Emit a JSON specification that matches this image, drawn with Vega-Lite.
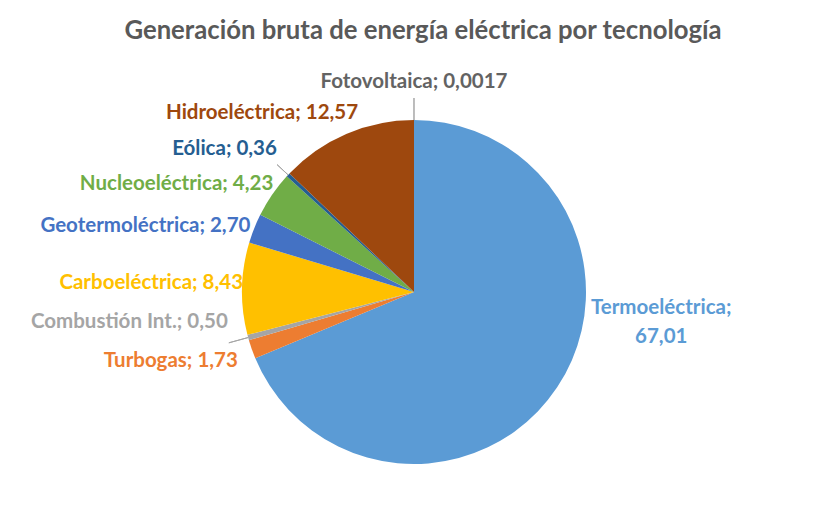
{
  "$schema": "https://vega.github.io/schema/vega-lite/v6.json",
  "width": 828,
  "height": 470,
  "autosize": "none",
  "padding": {"top": 57, "left": 0, "right": 0, "bottom": 0},
  "background": "white",
  "title": {
    "text": "Generación bruta de energía eléctrica por tecnología",
    "anchor": "middle",
    "frame": "group",
    "font": "Lato",
    "fontSize": 25.7,
    "fontWeight": "bold",
    "color": "#595959",
    "offset": 0,
    "baseline": "middle",
    "dx": 9
  },
  "config": {"view": {"stroke": null}},
  "data": {
    "values": [
      {"tech": "Termoeléctrica", "value": 67.01, "ord": 1, "label": "Termoeléctrica;\n67,01"},
      {"tech": "Turbogas", "value": 1.73, "ord": 2, "label": "Turbogas; 1,73"},
      {"tech": "Combustión Int.", "value": 0.50, "ord": 3, "label": "Combustión Int.; 0,50"},
      {"tech": "Carboeléctrica", "value": 8.43, "ord": 4, "label": "Carboeléctrica; 8,43"},
      {"tech": "Geotermoléctrica", "value": 2.70, "ord": 5, "label": "Geotermoléctrica; 2,70"},
      {"tech": "Nucleoeléctrica", "value": 4.23, "ord": 6, "label": "Nucleoeléctrica; 4,23"},
      {"tech": "Eólica", "value": 0.36, "ord": 7, "label": "Eólica; 0,36"},
      {"tech": "Hidroeléctrica", "value": 12.57, "ord": 8, "label": "Hidroeléctrica; 12,57"},
      {"tech": "Fotovoltaica", "value": 0.0017, "ord": 9, "label": "Fotovoltaica; 0,0017"}
    ]
  },
  "encoding": {
    "theta": {"field": "value", "type": "quantitative", "stack": true},
    "order": {"field": "ord", "type": "quantitative"}
  },
  "layer": [
    {
      "mark": {"type": "arc", "radius": 172},
      "encoding": {
        "color": {
          "field": "tech", "type": "nominal", "legend": null,
          "scale": {
            "domain": ["Termoeléctrica", "Turbogas", "Combustión Int.", "Carboeléctrica", "Geotermoléctrica", "Nucleoeléctrica", "Eólica", "Hidroeléctrica", "Fotovoltaica"],
            "range": ["#5B9BD5", "#ED7D31", "#A5A5A5", "#FFC000", "#4472C4", "#70AD47", "#255E91", "#9E480E", "#636363"]
          }
        }
      }
    },
    {
      "mark": {"type": "arc", "radius": 194, "radius2": 172, "filled": false, "strokeWidth": 1, "padAngle": 0.5},
      "encoding": {
        "stroke": {"condition": {"test": "datum.tech === 'Fotovoltaica'", "value": "#A6A6A6"}, "value": "transparent"}
      }
    },
    {
      "mark": {"type": "arc", "radius": 187, "radius2": 172, "filled": false, "strokeWidth": 1, "padAngle": 0.5},
      "encoding": {
        "stroke": {"condition": {"test": "datum.tech === 'Eólica'", "value": "#A6A6A6"}, "value": "transparent"}
      }
    },
    {
      "mark": {"type": "arc", "radius": 192, "radius2": 172, "filled": false, "strokeWidth": 1, "padAngle": 0.5},
      "encoding": {
        "stroke": {"condition": {"test": "datum.tech === 'Combustión Int.'", "value": "#A6A6A6"}, "value": "transparent"}
      }
    },
    {
      "mark": {"type": "text", "radius": 100, "align": "center", "baseline": "middle", "font": "Lato", "fontSize": 20.5, "fontWeight": "bold", "lineBreak": "\n", "lineHeight": 29, "dx": 164, "dy": -39},
      "encoding": {
        "text": {"condition": {"test": "datum.tech === 'Termoeléctrica'", "field": "label"}, "value": ""},
        "color": {"field": "tech", "type": "nominal", "legend": null}
      }
    },
    {
      "mark": {"type": "text", "radius": 190, "align": "right", "baseline": "middle", "font": "Lato", "fontSize": 20.5, "fontWeight": "bold", "dx": 3, "dy": 6},
      "encoding": {
        "text": {"condition": {"test": "datum.tech === 'Turbogas'", "field": "label"}, "value": ""},
        "color": {"field": "tech", "type": "nominal", "legend": null}
      }
    },
    {
      "mark": {"type": "text", "radius": 190, "align": "right", "baseline": "middle", "font": "Lato", "fontSize": 20.5, "fontWeight": "bold", "dx": -3, "dy": -20},
      "encoding": {
        "text": {"condition": {"test": "datum.tech === 'Combustión Int.'", "field": "label"}, "value": ""},
        "color": {"field": "tech", "type": "nominal", "legend": null}
      }
    },
    {
      "mark": {"type": "text", "radius": 190, "align": "right", "baseline": "middle", "font": "Lato", "fontSize": 20.5, "fontWeight": "bold", "dx": 19, "dy": -5},
      "encoding": {
        "text": {"condition": {"test": "datum.tech === 'Carboeléctrica'", "field": "label"}, "value": ""},
        "color": {"field": "tech", "type": "nominal", "legend": null}
      }
    },
    {
      "mark": {"type": "text", "radius": 190, "align": "right", "baseline": "middle", "font": "Lato", "fontSize": 20.5, "fontWeight": "bold", "dx": 13, "dy": 4},
      "encoding": {
        "text": {"condition": {"test": "datum.tech === 'Geotermoléctrica'", "field": "label"}, "value": ""},
        "color": {"field": "tech", "type": "nominal", "legend": null}
      }
    },
    {
      "mark": {"type": "text", "radius": 190, "align": "right", "baseline": "middle", "font": "Lato", "fontSize": 20.5, "fontWeight": "bold", "dx": 16, "dy": 0},
      "encoding": {
        "text": {"condition": {"test": "datum.tech === 'Nucleoeléctrica'", "field": "label"}, "value": ""},
        "color": {"field": "tech", "type": "nominal", "legend": null}
      }
    },
    {
      "mark": {"type": "text", "radius": 190, "align": "right", "baseline": "middle", "font": "Lato", "fontSize": 20.5, "fontWeight": "bold", "dx": 2, "dy": -14},
      "encoding": {
        "text": {"condition": {"test": "datum.tech === 'Eólica'", "field": "label"}, "value": ""},
        "color": {"field": "tech", "type": "nominal", "legend": null}
      }
    },
    {
      "mark": {"type": "text", "radius": 190, "align": "right", "baseline": "middle", "font": "Lato", "fontSize": 20.5, "fontWeight": "bold", "dx": 19, "dy": -4},
      "encoding": {
        "text": {"condition": {"test": "datum.tech === 'Hidroeléctrica'", "field": "label"}, "value": ""},
        "color": {"field": "tech", "type": "nominal", "legend": null}
      }
    },
    {
      "mark": {"type": "text", "radius": 190, "align": "center", "baseline": "middle", "font": "Lato", "fontSize": 20.5, "fontWeight": "bold", "dx": 0, "dy": -20},
      "encoding": {
        "text": {"condition": {"test": "datum.tech === 'Fotovoltaica'", "field": "label"}, "value": ""},
        "color": {"field": "tech", "type": "nominal", "legend": null}
      }
    }
  ]
}
